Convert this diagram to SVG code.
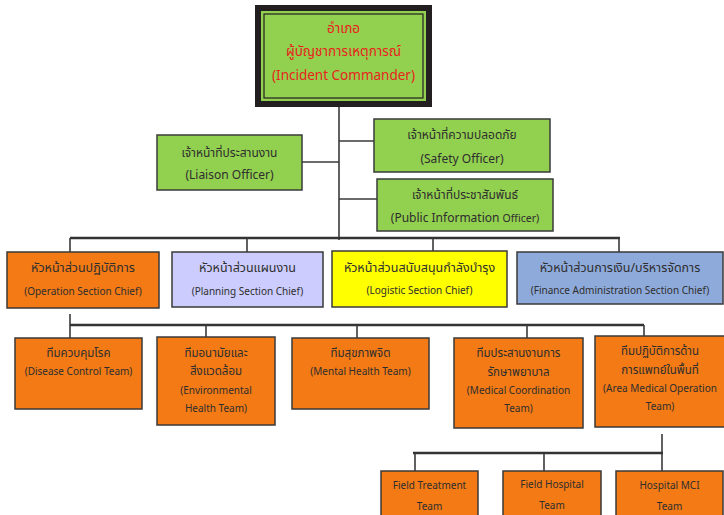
<svg xmlns="http://www.w3.org/2000/svg" width="724" height="515" viewBox="0 0 724 515">
  <style>
    text { font-family: "Noto Sans Thai", "Noto Sans", "Liberation Sans", sans-serif; text-anchor: middle; fill: #2e2e2e; }
    .box { stroke: #3a3a3a; stroke-width: 1.5; }
    .green { fill: #92d050; }
    .orange { fill: #f37a15; }
    .lav { fill: #ccccff; }
    .yel { fill: #ffff00; }
    .blue { fill: #8eaadb; }
    .t13 { font-size: 12.5px; }
    .t12 { font-size: 12px; }
    .th { font-size: 11.5px; }
    .t10 { font-size: 10px; }
    .red { fill: #e8231b; font-size: 13.5px; }
    .bus { stroke: #333; stroke-width: 2.5; fill: none; }
    .ln { stroke: #3a3a3a; stroke-width: 1.6; fill: none; }
  </style>

  <!-- connectors -->
  <g id="connectors">
    <line class="ln" x1="339" y1="107" x2="339" y2="240"/>
    <line class="ln" x1="302" y1="162" x2="339" y2="162"/>
    <line class="ln" x1="339" y1="141" x2="374" y2="141"/>
    <line class="ln" x1="339" y1="199" x2="377" y2="199"/>
    <line class="bus" x1="70" y1="238" x2="620" y2="238"/>
    <line class="ln" x1="70" y1="238" x2="70" y2="252"/>
    <line class="ln" x1="247" y1="238" x2="247" y2="252"/>
    <line class="ln" x1="433" y1="238" x2="433" y2="251"/>
    <line class="ln" x1="619" y1="238" x2="619" y2="252"/>
    <line class="ln" x1="70" y1="314" x2="70" y2="338"/>
    <line class="bus" x1="70" y1="325" x2="644" y2="325"/>
    <line class="ln" x1="206" y1="325" x2="206" y2="337"/>
    <line class="ln" x1="357" y1="325" x2="357" y2="338"/>
    <line class="ln" x1="527" y1="325" x2="527" y2="338"/>
    <line class="ln" x1="644" y1="325" x2="644" y2="336"/>
    <line class="ln" x1="662" y1="434" x2="662" y2="471"/>
    <line class="bus" x1="413" y1="453" x2="663" y2="453"/>
    <line class="ln" x1="415" y1="453" x2="415" y2="471"/>
    <line class="ln" x1="544" y1="453" x2="544" y2="471"/>
  </g>

  <!-- incident commander -->
  <g id="commander">
    <rect x="255" y="5" width="177" height="102" fill="#231f20"/>
    <rect x="261" y="11" width="165" height="90" fill="#92d050"/>
    <rect x="264" y="14" width="159" height="84" fill="none" stroke="#231f20" stroke-width="1.2"/>
    <text class="red" x="343.5" y="33">อำเภอ</text>
    <text class="red" x="343.5" y="56">ผู้บัญชาการเหตุการณ์</text>
    <text class="red" x="343.5" y="80">(Incident Commander)</text>
  </g>

  <g id="liaison">
    <rect class="box green" x="157" y="135" width="145" height="55"/>
    <text class="t12" x="229.5" y="157">เจ้าหน้าที่ประสานงาน</text>
    <text class="t12" x="229.5" y="179">(Liaison Officer)</text>
  </g>

  <g id="safety">
    <rect class="box green" x="374" y="119" width="176" height="53"/>
    <text class="t12" x="462" y="139">เจ้าหน้าที่ความปลอดภัย</text>
    <text class="t12" x="462" y="163">(Safety Officer)</text>
  </g>

  <g id="public-info">
    <rect class="box green" x="377" y="179" width="176" height="52"/>
    <text class="t12" x="465" y="199">เจ้าหน้าที่ประชาสัมพันธ์</text>
    <text class="t12" x="465" y="222">(Public Information <tspan font-size="10.5">Officer)</tspan></text>
  </g>

  <g id="operation">
    <rect class="box orange" x="7" y="252" width="152" height="56"/>
    <text class="t13" x="83" y="272">หัวหน้าส่วนปฏิบัติการ</text>
    <text class="t10" x="83" y="295">(Operation Section Chief)</text>
  </g>

  <g id="planning">
    <rect class="box lav" x="172" y="252" width="151" height="55"/>
    <text class="t13" x="247.5" y="272">หัวหน้าส่วนแผนงาน</text>
    <text class="t10" x="247.5" y="295">(Planning Section Chief)</text>
  </g>

  <g id="logistic">
    <rect class="box yel" x="332" y="251" width="175" height="56"/>
    <text class="t13" x="419.5" y="272">หัวหน้าส่วนสนับสนุนกำลังบำรุง</text>
    <text class="t10" x="419.5" y="294">(Logistic Section Chief)</text>
  </g>

  <g id="finance">
    <rect class="box blue" x="517" y="252" width="206" height="52"/>
    <text class="t13" x="620" y="272">หัวหน้าส่วนการเงิน/บริหารจัดการ</text>
    <text class="t10" x="620" y="294">(Finance Administration Section Chief)</text>
  </g>

  <g id="disease-control">
    <rect class="box orange" x="15" y="338" width="127" height="71"/>
    <text class="th" x="78.5" y="357">ทีมควบคุมโรค</text>
    <text class="t10" x="78.5" y="375">(Disease Control Team)</text>
  </g>

  <g id="environmental">
    <rect class="box orange" x="157" y="337" width="118" height="88"/>
    <text class="th" x="216" y="357">ทีมอนามัยและ</text>
    <text class="th" x="216" y="375">สิ่งแวดล้อม</text>
    <text class="t10" x="216" y="394">(Environmental</text>
    <text class="t10" x="216" y="412">Health Team)</text>
  </g>

  <g id="mental-health">
    <rect class="box orange" x="292" y="338" width="137" height="71"/>
    <text class="th" x="360.5" y="357">ทีมสุขภาพจิต</text>
    <text class="t10" x="360.5" y="375">(Mental Health Team)</text>
  </g>

  <g id="medical-coordination">
    <rect class="box orange" x="454" y="338" width="129" height="90"/>
    <text class="th" x="518.5" y="357">ทีมประสานงานการ</text>
    <text class="th" x="518.5" y="376">รักษาพยาบาล</text>
    <text class="t10" x="518.5" y="394">(Medical Coordination</text>
    <text class="t10" x="518.5" y="412">Team)</text>
  </g>

  <g id="area-medical">
    <rect class="box orange" x="595" y="336" width="132" height="91"/>
    <text class="th" x="660" y="355">ทีมปฏิบัติการด้าน</text>
    <text class="th" x="660" y="374">การแพทย์ในพื้นที่</text>
    <text class="t10" x="660" y="392">(Area Medical Operation</text>
    <text class="t10" x="660" y="410">Team)</text>
  </g>

  <g id="field-treatment">
    <rect class="box orange" x="381" y="471" width="97" height="50"/>
    <text class="t10" x="429.5" y="489">Field Treatment</text>
    <text class="t10" x="429.5" y="510">Team</text>
  </g>

  <g id="field-hospital">
    <rect class="box orange" x="503" y="471" width="98" height="50"/>
    <text class="t10" x="552" y="488">Field Hospital</text>
    <text class="t10" x="552" y="509">Team</text>
  </g>

  <g id="hospital-mci">
    <rect class="box orange" x="616" y="471" width="107" height="50"/>
    <text class="t10" x="669.5" y="489">Hospital MCI</text>
    <text class="t10" x="669.5" y="510">Team</text>
  </g>
</svg>
